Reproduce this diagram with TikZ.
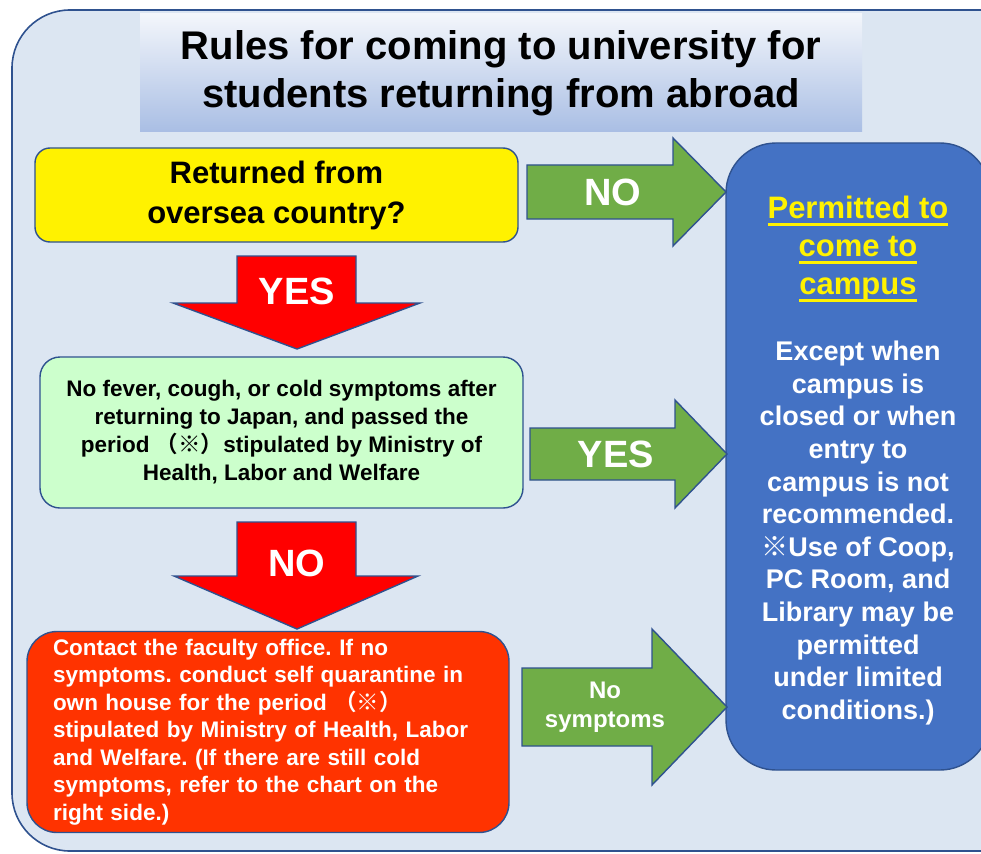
\documentclass[tikz,border=0pt]{standalone}
\usepackage{fontspec}
\setmainfont{Liberation Sans}
\newfontfamily\cjk{Noto Sans CJK JP}[BoldFont={Noto Sans CJK JP Bold}]
\newcommand{\headline}[1]{\leavevmode\setbox0=\hbox{#1}\rlap{\rule[-7pt]{\wd0}{2.6pt}}\box0}
\frenchspacing

\definecolor{bgblue}{HTML}{DCE6F2}
\definecolor{edgeblue}{HTML}{2F528F}
\definecolor{bandtop}{HTML}{F3F6FB}
\definecolor{bandbot}{HTML}{A9BEE4}
\definecolor{palegreen}{HTML}{CCFFCC}
\definecolor{alertred}{HTML}{FF3300}
\definecolor{okblue}{HTML}{4472C4}
\definecolor{arrowgreen}{HTML}{70AD47}

\tikzset{
  flowbox/.style={draw=edgeblue, line width=1.4pt, rounded corners=#1, align=center},
  blockarrow/.style={draw=edgeblue, line width=1.4pt, line join=miter},
  arrowtext/.style={text=white, font=\bfseries\fontsize{38}{40}\selectfont}
}

\begin{document}
\begin{tikzpicture}[x=1pt, y=-1pt]
    \useasboundingbox (0,0) rectangle (981,853);
    \draw[fill=bgblue, draw=edgeblue, line width=1.6pt, rounded corners=58] (12,10) rectangle (1060,851);

    \node[top color=bandtop, bottom color=bandbot, minimum width=722, minimum height=118, align=center, font=\bfseries\fontsize{40}{48}\selectfont] (title) at (501,73) {Rules for coming to university for\\students returning from abroad};

    % question and answers
    \node[flowbox=15, fill=yellow, minimum width=483, minimum height=94, font=\bfseries\fontsize{31}{40}\selectfont] (q) at (276.5,195) {Returned from\\oversea country?};
    \node[flowbox=20, fill=palegreen, minimum width=483, minimum height=151, font=\bfseries\fontsize{22.5}{28}\selectfont] (cond) at (281.5,432.5) {No fever, cough, or cold symptoms after\\returning to Japan, and passed the\\period {\cjk （※）}stipulated by Ministry of\\Health, Labor and Welfare};
    \node[flowbox=30, fill=alertred, minimum width=482, minimum height=201, text=white, text width=430, align=left, font=\bfseries\fontsize{22.5}{27.5}\selectfont] (act) at (268,732) {Contact the faculty office. If no\\symptoms. conduct self quarantine in\\own house for the period {\cjk （※）}\\stipulated by Ministry of Health, Labor\\and Welfare. (If there are still cold\\symptoms, refer to the chart on the\\right side.)};

    \node[flowbox=50, fill=okblue, minimum width=264, minimum height=627] (ok) at (858,456.5) {};
    \node[text=yellow, align=center, font=\bfseries\fontsize{31}{38}\selectfont] (okhead) at (858,249) {\headline{Permitted to}\\\headline{come to}\\\headline{campus}};
    \node[text=white, align=center, font=\bfseries\fontsize{27}{32.6}\selectfont] (okbody) at (858,533) {Except when\\campus is\\closed or when\\entry to\\campus is not\\recommended.\\{\cjk ※}Use of Coop,\\PC Room, and\\Library may be\\permitted\\under limited\\conditions.)};

    % block arrows
    \draw[blockarrow, fill=red] (237,256) -- (356,256) -- (356,303) -- (420,303) -- (297,349) -- (173,303) -- (237,303) -- cycle;
    \node[arrowtext] (yes1) at (297,291) {YES};
    \draw[blockarrow, fill=red] (237,522) -- (356,522) -- (356,576) -- (418,576) -- (297,629) -- (174,576) -- (237,576) -- cycle;
    \node[arrowtext] (no2) at (297,563) {NO};

    \draw[blockarrow, fill=arrowgreen] (527,165) -- (673,165) -- (673,138) -- (726,192) -- (673,246) -- (673,219) -- (527,219) -- cycle;
    \node[arrowtext] (no1) at (613,192) {NO};
    \draw[blockarrow, fill=arrowgreen] (530,428) -- (675,428) -- (675,400) -- (727,454) -- (675,508) -- (675,480) -- (530,480) -- cycle;
    \node[arrowtext] (yes2) at (616,454) {YES};
    \draw[blockarrow, fill=arrowgreen] (522,668) -- (652,668) -- (652,629) -- (727,707) -- (652,785) -- (652,746) -- (522,746) -- cycle;
    \node[text=white, align=center, font=\bfseries\fontsize{24}{29}\selectfont] (nosym) at (605,707) {No\\symptoms};
\end{tikzpicture}
\end{document}
